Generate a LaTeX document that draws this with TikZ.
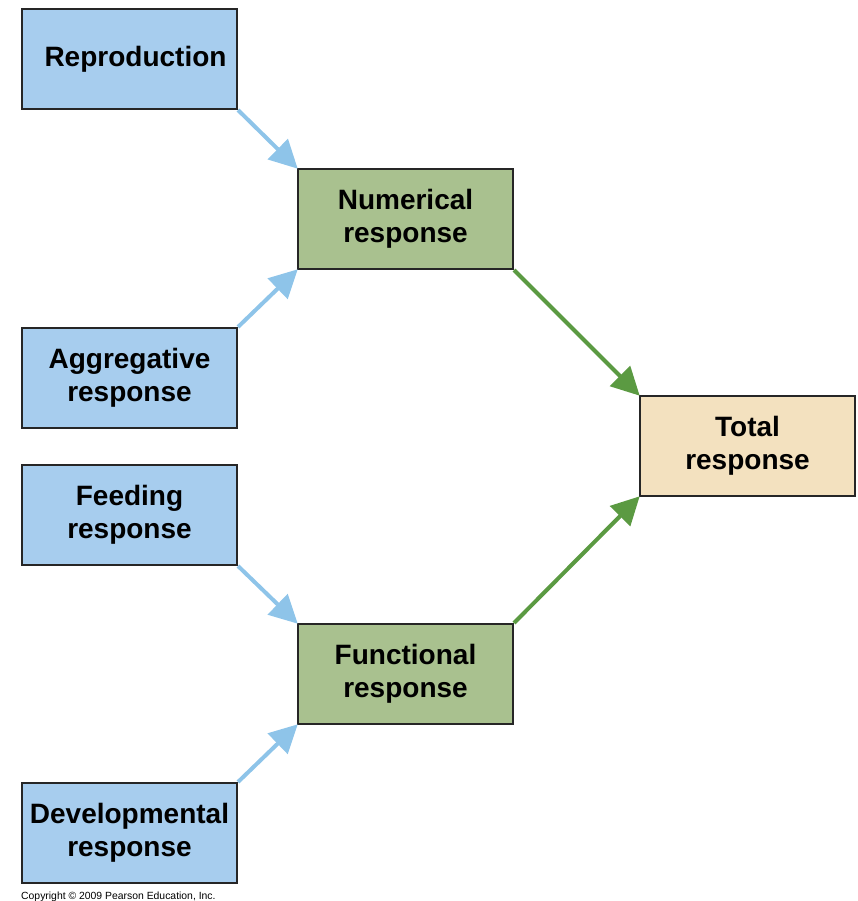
\documentclass[tikz,border=0pt]{standalone}
\usepackage{fontspec}
\setmainfont{Liberation Sans}
\usetikzlibrary{arrows.meta}
\definecolor{boxblue}{HTML}{A7CDEE}
\definecolor{boxgreen}{HTML}{A9C18F}
\definecolor{boxtan}{HTML}{F3E1BF}
\definecolor{arrblue}{HTML}{8EC4E9}
\definecolor{arrgreen}{HTML}{5B9A42}
\tikzset{
  box/.style={draw=black!85, line width=2pt, minimum width=215pt, minimum height=100pt,
    inner sep=0pt, align=center, font=\fontsize{28}{32.5}\selectfont\bfseries,
    execute at begin node={\vspace*{4pt}}},
  bluebox/.style={box, fill=boxblue},
  greenbox/.style={box, fill=boxgreen},
  tanbox/.style={box, fill=boxtan},
  bluearr/.style={draw=arrblue, line width=4pt, -{Triangle[length=28pt,width=28pt]}, shorten >=-1pt},
  greenarr/.style={draw=arrgreen, line width=4pt, -{Triangle[length=28pt,width=28pt]}, shorten >=-1pt}
}
\begin{document}
\begin{tikzpicture}[x=1pt,y=-1pt]
\useasboundingbox (0,0) rectangle (857,901);
\node[bluebox] (rep) at (129.5,59) {\hspace*{12pt}Reproduction};
\node[greenbox] (num) at (405.5,219) {Numerical\\response};
\node[bluebox] (agg) at (129.5,378) {Aggregative\\response};
\node[tanbox] (tot) at (747.5,446) {Total\\response};
\node[bluebox] (feed) at (129.5,515) {Feeding\\response};
\node[greenbox] (fun) at (405.5,674) {Functional\\response};
\node[bluebox] (dev) at (129.5,833) {Developmental\\response};
\node[anchor=west, inner sep=0pt, font=\fontsize{10.4}{12}\selectfont] (copy) at (21,896.5) {Copyright \textcopyright\ 2009 Pearson Education, Inc.};
\draw[bluearr] (rep.south east) -- (num.north west);
\draw[bluearr] (agg.north east) -- (num.south west);
\draw[bluearr] (feed.south east) -- (fun.north west);
\draw[bluearr] (dev.north east) -- (fun.south west);
\draw[greenarr] (num.south east) -- (tot.north west);
\draw[greenarr] (fun.north east) -- (tot.south west);
\end{tikzpicture}
\end{document}
